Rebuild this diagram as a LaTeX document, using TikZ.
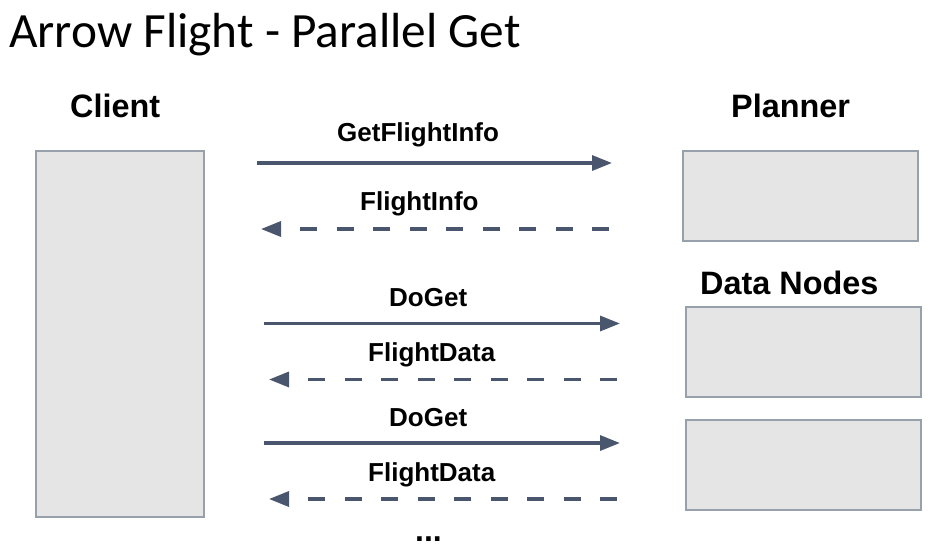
\documentclass[tikz,border=0pt]{standalone}
\usepackage{fontspec}
\setmainfont{Liberation Sans}
\newfontfamily\titlefont{Carlito}
\usetikzlibrary{arrows.meta}
\usetikzlibrary{positioning}
\definecolor{arrowslate}{RGB}{74, 86, 110}
\definecolor{boxgray}{RGB}{229, 229, 229}
\definecolor{boxedge}{RGB}{152, 160, 172}

\begin{document}
\begin{tikzpicture}[x=1pt, y=-1pt,
    box/.style={draw=boxedge, fill=boxgray, line width=1.5pt, inner sep=0pt, anchor=north west},
    heading/.style={font=\fontsize{32.4}{38}\selectfont\bfseries, anchor=base west, inner sep=0pt},
    msg/.style={font=\fontsize{26}{31}\selectfont\bfseries, anchor=base west, inner sep=0pt},
    call/.style={arrowslate, line width=3.3pt, -{Triangle[length=20pt, width=15pt]}},
    reply/.style={call, dash pattern=on 17pt off 19.5pt}]
    \useasboundingbox (0, 0) rectangle (930, 547);

    \node[anchor=base west, inner sep=0pt, font=\titlefont\fontsize{49.3}{58}\selectfont] (title) at (9, 47) {Arrow Flight - Parallel Get};

    \node[heading] (clientlabel) at (70, 117.7) {Client};
    \node[heading] (plannerlabel) at (731, 117.7) {Planner};
    \node[heading] (datalabel) at (700, 294) {Data Nodes};

    \node[box, minimum width=168pt, minimum height=366pt] (client) at (35, 150) {};
    \node[box, minimum width=235pt, minimum height=90pt] (planner) at (682, 150) {};
    \node[box, minimum width=235pt, minimum height=90pt] (datanode1) at (685, 306) {};
    \node[box, minimum width=235pt, minimum height=90pt] (datanode2) at (685, 419) {};

    \coordinate (info-s) at (257, 163);
    \coordinate (info-e) at (612, 163);
    \coordinate (inforet-s) at (609, 229);
    \coordinate (inforet-e) at (261, 229);
    \coordinate (get1-s) at (264, 323.5);
    \coordinate (get1-e) at (620, 323.5);
    \coordinate (data1-s) at (617, 379.5);
    \coordinate (data1-e) at (269, 379.5);
    \coordinate (get2-s) at (264, 443);
    \coordinate (get2-e) at (620, 443);
    \coordinate (data2-s) at (617, 499);
    \coordinate (data2-e) at (269, 499);

    \draw[call] (info-s) -- (info-e);
    \draw[reply] (inforet-s) -- (inforet-e);
    \draw[call] (get1-s) -- (get1-e);
    \draw[reply] (data1-s) -- (data1-e);
    \draw[call] (get2-s) -- (get2-e);
    \draw[reply] (data2-s) -- (data2-e);

    \node[msg] (infolabel) at (337, 141.7) {GetFlightInfo};
    \node[msg] (inforetlabel) at (360, 210) {FlightInfo};
    \node[msg] (get1label) at (389, 306.7) {DoGet};
    \node[msg] (data1label) at (368, 361.7) {FlightData};
    \node[msg] (get2label) at (389, 426) {DoGet};
    \node[msg] (data2label) at (368, 481) {FlightData};
    \node[msg, font=\fontsize{32}{38}\selectfont\bfseries] (more) at (415, 541) {...};
\end{tikzpicture}
\end{document}
